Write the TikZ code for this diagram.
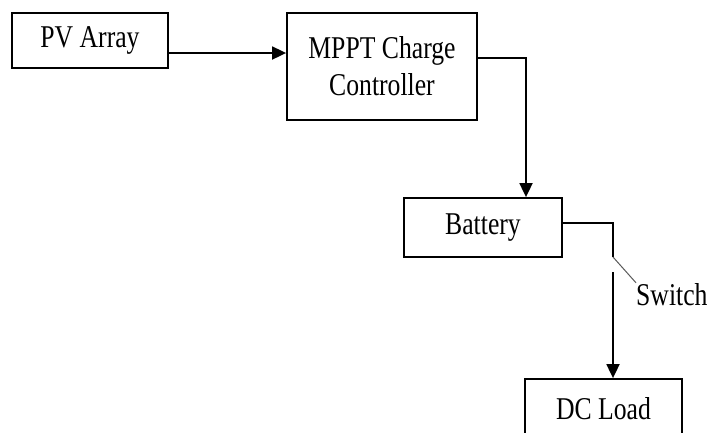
\documentclass[tikz,border=0pt]{standalone}
\usepackage{fontspec}
\setmainfont{Liberation Serif}[FakeStretch=0.81]
\usetikzlibrary{arrows.meta}
\begin{document}
\begin{tikzpicture}[x=1pt,y=-1pt,
  blk/.style={draw,line width=1.8pt,inner sep=0pt,align=center,
    font=\fontsize{31.7}{37}\selectfont},
  flow/.style={line width=1.8pt,-{Triangle[length=14pt,width=13pt]}}]
  \useasboundingbox (0,0) rectangle (710,432);
  \node[blk,minimum width=156,minimum height=55] (pv) at (90,40.5) {PV Array};
  \node[blk,minimum width=190,minimum height=107] (mppt) at (382,66.5) {MPPT Charge\\Controller};
  \node[blk,minimum width=158,minimum height=59] (battery) at (483,227.5) {Battery};
  \node[blk,minimum width=157,minimum height=60] (dcload) at (603.5,409) {DC Load};
  \node[font=\fontsize{31.7}{37}\selectfont,inner sep=0pt,anchor=base west] (switch) at (636,305) {Switch};
  \coordinate (sw1) at (613,257);
  \coordinate (sw2) at (613,272);
  \draw[flow] ([yshift=-12.5pt]pv.east) coordinate (a) -- (a -| mppt.west);
  \draw[flow] ([yshift=8.5pt]mppt.east) -| ([xshift=43pt]battery.north);
  \draw[line width=1.8pt] ([yshift=4.5pt]battery.east) -| (sw1);
  \draw[gray!70!black,line width=1pt] (sw1) -- (switch.north west);
  \draw[flow] (sw2) -- (sw2 |- dcload.north);
\end{tikzpicture}
\end{document}
